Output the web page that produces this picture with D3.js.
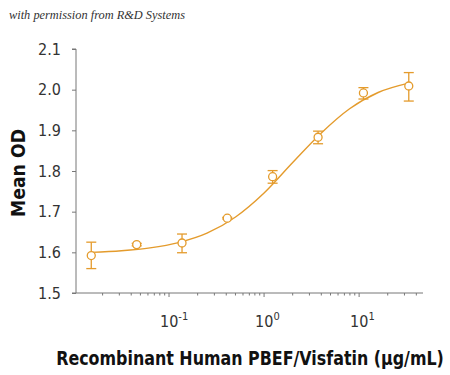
<!DOCTYPE html>
<html lang="en">
<head>
    <meta charset="UTF-8">
    <title>PBEF/Visfatin</title>
    <script src="https://cdn.jsdelivr.net/npm/d3@7"></script>
    <style>
        body { margin: 0; background: #fff; }
        #chart { width: 450px; height: 375px; }
        .cond { font-family: "DejaVu Sans Condensed", "DejaVu Sans", sans-serif; font-stretch: condensed; }
    </style>
</head>
<body>
<div id="chart"></div>
<script>
    // concentrations (ug/mL), 3-fold dilutions
    var conc = [0.0152, 0.0457, 0.137, 0.41, 1.23, 3.7, 11.1, 33.3];
    // mean OD
    var meanOD = [1.592, 1.619, 1.623, 1.684, 1.786, 1.883, 1.992, 2.009];
    // error bar low / high
    var errLow = [1.560, 1.616, 1.599, 1.682, 1.770, 1.867, 1.977, 1.972];
    var errHigh = [1.625, 1.622, 1.645, 1.686, 1.801, 1.898, 2.005, 2.042];
    // fitted curve
    var curveX = [0.0152, 0.0316, 0.0631, 0.126, 0.251, 0.501, 1, 2, 3.98, 7.94, 15.85, 33.3];
    var curveY = [1.600, 1.604, 1.611, 1.624, 1.647, 1.687, 1.746, 1.821, 1.893, 1.953, 1.993, 2.016];
    var yTicks = [1.5, 1.6, 1.7, 1.8, 1.9, 2.0, 2.1];
    var xMajor = [0.1, 1, 10];
    var xExp = ["-1", "0", "1"];

    var W = 450, H = 375;
    var col = "#E49B2C";
    var axisCol = "#777";

    var svg = d3.select("#chart").append("svg")
        .attr("width", W)
        .attr("height", H);

    var x = d3.scaleLog().domain([0.0105, 47]).range([76, 423]);
    var y = d3.scaleLinear().domain([1.5, 2.1]).range([293, 49]);

    // squeeze a text horizontally to a given width
    var squeeze = function (sel, base, width) {
        var w = sel.node().getComputedTextLength();
        sel.attr("transform", base + " scale(" + Math.min(1, width / w) + ",1)");
    };

    // credit line
    svg.append("text")
        .attr("x", 9)
        .attr("y", 19)
        .attr("font-family", "'Liberation Serif', serif")
        .attr("font-style", "italic")
        .attr("font-size", 11.5)
        .attr("fill", "#333")
        .attr("textLength", 176)
        .attr("lengthAdjust", "spacingAndGlyphs")
        .text("with permission from R&D Systems");

    // y axis
    var yAxis = d3.axisLeft(y).tickValues(yTicks).tickSize(4)
        .tickFormat(d3.format(".1f"));
    var gy = svg.append("g")
        .attr("transform", "translate(76,0)")
        .call(yAxis);
    gy.select(".domain").attr("stroke", axisCol).attr("d", "M-4,49H0V293H-4");
    gy.selectAll(".tick line").attr("stroke", axisCol);
    gy.selectAll(".tick text")
        .attr("class", "cond")
        .attr("x", -15)
        .attr("font-size", 16)
        .attr("fill", "#333");

    // x axis: minor ticks
    var minor = [];
    [0.01, 0.1, 1, 10].forEach(function (dec) {
        for (var k = 2; k <= 9; k++) {
            var v = dec * k;
            if (v > x.domain()[0] && v < x.domain()[1]) minor.push(v);
        }
    });
    var gx = svg.append("g").attr("transform", "translate(0,293)");
    gx.append("line")
        .attr("x1", 76).attr("x2", 423)
        .attr("stroke", axisCol);
    gx.selectAll(".minor")
        .data(minor)
        .enter()
        .append("line")
        .attr("x1", function (d) { return x(d); })
        .attr("x2", function (d) { return x(d); })
        .attr("y1", 0).attr("y2", 2.5)
        .attr("stroke", axisCol);
    gx.selectAll(".major")
        .data(xMajor)
        .enter()
        .append("line")
        .attr("x1", function (d) { return x(d); })
        .attr("x2", function (d) { return x(d); })
        .attr("y1", 0).attr("y2", 4)
        .attr("stroke", axisCol);
    var lab = gx.selectAll(".lab")
        .data(xMajor)
        .enter()
        .append("text")
        .attr("class", "cond")
        .attr("x", function (d) { return x(d) - 9; })
        .attr("y", 34)
        .attr("font-size", 16)
        .attr("fill", "#333");
    lab.append("tspan").text("10");
    lab.append("tspan")
        .attr("dy", -7)
        .attr("font-size", 11)
        .text(function (d, i) { return xExp[i]; });

    // axis titles
    var yTitle = svg.append("text")
        .attr("class", "cond")
        .attr("text-anchor", "middle")
        .attr("font-size", 20)
        .attr("font-weight", "bold")
        .attr("fill", "#111")
        .text("Mean OD");
    squeeze(yTitle, "translate(25,173) rotate(-90)", 88);

    var xTitle = svg.append("text")
        .attr("class", "cond")
        .attr("text-anchor", "middle")
        .attr("font-size", 20)
        .attr("font-weight", "bold")
        .attr("fill", "#111")
        .text("Recombinant Human PBEF/Visfatin (\u03BCg/mL)");
    squeeze(xTitle, "translate(250,365)", 388);

    // fitted curve
    var line = d3.line()
        .x(function (d) { return x(d[0]); })
        .y(function (d) { return y(d[1]); })
        .curve(d3.curveMonotoneX);
    svg.append("path")
        .datum(d3.zip(curveX, curveY))
        .attr("d", line)
        .attr("fill", "none")
        .attr("stroke", col)
        .attr("stroke-width", 1.4);

    // error bars and points
    var rows = conc.map(function (c, i) {
        return {c: c, m: meanOD[i], lo: errLow[i], hi: errHigh[i]};
    });
    var g = svg.append("g").selectAll("g")
        .data(rows)
        .enter()
        .append("g")
        .attr("stroke", col)
        .attr("stroke-width", 1.3)
        .attr("fill", "none");
    g.append("line")
        .attr("x1", function (d) { return x(d.c); })
        .attr("x2", function (d) { return x(d.c); })
        .attr("y1", function (d) { return y(d.lo); })
        .attr("y2", function (d) { return y(d.hi); });
    g.append("line")
        .attr("x1", function (d) { return x(d.c) - 5; })
        .attr("x2", function (d) { return x(d.c) + 5; })
        .attr("y1", function (d) { return y(d.lo); })
        .attr("y2", function (d) { return y(d.lo); });
    g.append("line")
        .attr("x1", function (d) { return x(d.c) - 5; })
        .attr("x2", function (d) { return x(d.c) + 5; })
        .attr("y1", function (d) { return y(d.hi); })
        .attr("y2", function (d) { return y(d.hi); });
    g.append("circle")
        .attr("cx", function (d) { return x(d.c); })
        .attr("cy", function (d) { return y(d.m); })
        .attr("r", 4)
        .attr("fill", "#fff");
</script>
</body>
</html>
